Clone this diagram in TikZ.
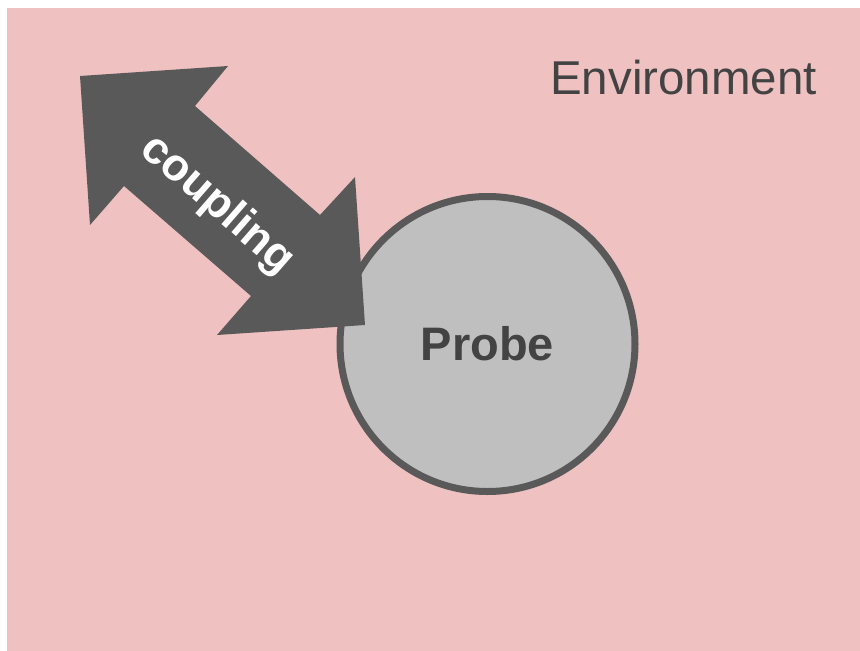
\documentclass[tikz,border=0pt]{standalone}
\usepackage{fontspec}
\setmainfont{Liberation Sans}
\definecolor{envpink}{RGB}{239,193,193}
\definecolor{darkgrey}{RGB}{89,89,89}
\definecolor{lightgrey}{RGB}{191,191,191}
\definecolor{textgrey}{RGB}{67,67,67}
\begin{document}
\begin{tikzpicture}[x=1pt,y=-1pt,
  probestyle/.style={circle,draw=darkgrey,line width=7pt,fill=lightgrey,minimum size=295pt,inner sep=0pt,
    font=\fontsize{47}{50}\selectfont\bfseries,text=textgrey},
  envlabel/.style={font=\fontsize{47.5}{50}\selectfont,text=textgrey,inner sep=0pt,anchor=base west},
  couplinglabel/.style={font=\fontsize{45}{48}\selectfont\bfseries,text=white,inner sep=0pt,rotate=-41}]
\useasboundingbox (0,0) rectangle (860,651);
\fill[envpink] (7,8) rectangle (860,651);
\node[envlabel] (env) at (550,94) {Environment};
\node[probestyle] (probe) at (487.5,344) {Probe};
\fill[darkgrey] (80,76) -- (228,66) -- (195,106) -- (320,215) -- (355,177) -- (365,325)
  -- (217,335) -- (251,296) -- (124,186) -- (90,225) -- cycle;
\node[couplinglabel] (coupling) at (217,205) {coupling};
\end{tikzpicture}
\end{document}
